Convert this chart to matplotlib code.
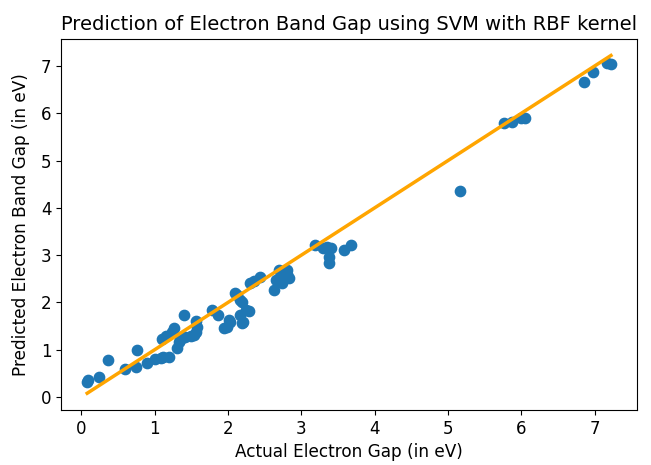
import numpy as np
from matplotlib import pyplot as plt

# valeurs (eV)
actual = [0.08, 0.09, 0.24, 0.37, 0.60, 0.74, 0.76, 0.90, 1.01, 1.08,
          1.12, 1.19, 1.10, 1.15, 1.24, 1.26, 1.30, 1.33, 1.35, 1.40,
          1.42, 1.49, 1.53, 1.56, 1.58, 1.56, 1.78, 1.87, 1.94, 1.98,
          2.01, 2.03, 2.10, 2.12, 2.17, 2.19, 2.17, 2.24, 2.19, 2.21,
          2.28, 2.30, 2.36, 2.44, 2.62, 2.65, 2.69, 2.74, 2.76, 2.81,
          2.83, 2.80, 3.19, 3.30, 3.35, 3.40, 3.37, 3.37, 3.58, 3.67,
          5.16, 5.76, 5.87, 5.99, 6.05, 6.85, 6.97, 7.17, 7.22]
predicted = [0.32, 0.36, 0.42, 0.78, 0.59, 0.63, 0.99, 0.71, 0.80, 0.82,
             0.85, 0.84, 1.22, 1.28, 1.38, 1.45, 1.03, 1.17, 1.21, 1.73,
             1.27, 1.28, 1.31, 1.38, 1.49, 1.61, 1.84, 1.73, 1.45, 1.48,
             1.63, 1.59, 2.19, 2.15, 2.05, 2.01, 1.73, 1.84, 1.56, 1.59,
             1.81, 2.40, 2.45, 2.54, 2.26, 2.47, 2.68, 2.40, 2.51, 2.68,
             2.51, 2.60, 3.21, 3.14, 3.18, 3.16, 2.97, 2.83, 3.11, 3.21,
             4.36, 5.80, 5.82, 5.89, 5.90, 6.67, 6.88, 7.06, 7.05]

x = np.array(actual)
y = np.array(predicted)

fig = plt.figure(figsize=(6.51, 4.65), dpi=100)
ax = fig.add_axes([0.0937, 0.118, 0.885, 0.799])

ax.scatter(x, y, s=55, color='#1f77b4')
# droite y = x
xs = np.sort(x)
ax.plot(xs, xs, color='orange', linewidth=2.5)

ax.set_xlabel('Actual Electron Gap (in eV)', fontsize=12.2)
ax.set_ylabel('Predicted Electron Band Gap (in eV)', fontsize=12.2, labelpad=8)
ax.set_title('Prediction of Electron Band Gap using SVM with RBF kernel', fontsize=14)
ax.tick_params(labelsize=12)
ax.set_xticks(range(8))
ax.set_yticks(range(8))

plt.savefig('out.png')
